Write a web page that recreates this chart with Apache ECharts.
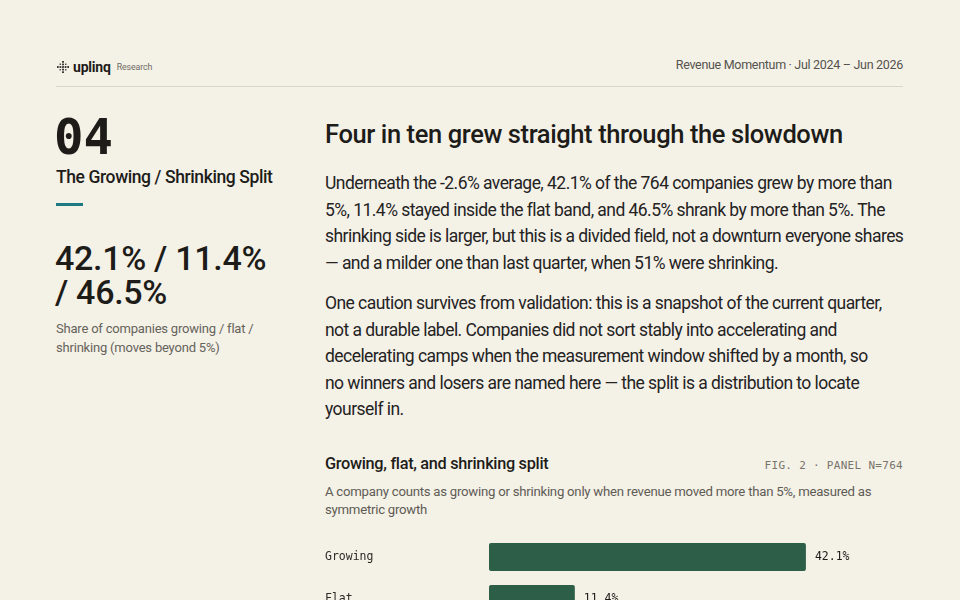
<!DOCTYPE html>
<html>
<head>
<meta charset="utf-8">
<script src="https://cdn.jsdelivr.net/npm/echarts@6/dist/echarts.min.js"></script>
<style>
  html, body { margin: 0; padding: 0; }
  body {
    width: 960px; height: 600px; overflow: hidden; position: relative;
    background: #f4f1e7; color: #1d1c19;
    font-family: Roboto, "Noto Sans", sans-serif;
  }
  .abs { position: absolute; }
  .mono { font-family: "DejaVu Sans Mono", "Liberation Mono", monospace; }
  #brand { left: 57px; top: 59px; display: flex; align-items: center; gap: 4px; }
  #brand .word { font-weight: 700; font-size: 14px; letter-spacing: -0.2px; }
  #brand .sub { font-size: 8.8px; color: #6f6c64; margin-left: 2px; letter-spacing: -0.1px; }
  #range { right: 57px; top: 57px; font-size: 12.5px; color: #55534d; letter-spacing: -0.3px; }
  #rule { left: 56px; top: 86px; width: 847px; height: 1px; background: #d9d5c9; }
  #num { left: 54px; top: 110px; font-size: 49px; font-weight: 700; line-height: 56px; }
  #sect { left: 56px; top: 167px; font-size: 17.5px; font-weight: 500; letter-spacing: -0.4px; }
  #tick { left: 56px; top: 203px; width: 27px; height: 3px; background: #1d7a82; }
  #big { left: 55px; top: 241px; width: 222px; font-size: 34px; font-weight: 500; line-height: 34px; letter-spacing: -0.3px; }
  #cap { left: 56px; top: 319px; width: 205px; font-size: 13px; line-height: 19px; color: #66635b; letter-spacing: -0.2px; }
  #title { left: 325px; top: 119px; font-size: 25.5px; font-weight: 500; letter-spacing: -0.4px; }
  .para { left: 325px; font-size: 17.5px; line-height: 26.5px; letter-spacing: -0.55px; color: #24231f; margin: 0; white-space: nowrap; }
  #p1 { top: 170px; }
  #p2 { top: 290px; }
  #ctitle { left: 325px; top: 454px; font-size: 16.3px; font-weight: 500; letter-spacing: -0.3px; }
  #fig { right: 57px; top: 459px; font-size: 11px; color: #77746b; letter-spacing: 0.3px; }
  #csub { left: 325px; top: 483px; width: 578px; font-size: 13.2px; line-height: 18px; color: #5f5c55; letter-spacing: -0.25px; }
  #chart { left: 325px; top: 536px; width: 578px; height: 180px; }
</style>
</head>
<body>
<div id="brand" class="abs">
  <svg width="12" height="12" viewBox="0 0 14 14">
    <g fill="#1d1c19">
      <rect x="6" y="0" width="2" height="2"/><rect x="6" y="3" width="2" height="2"/>
      <rect x="6" y="6" width="2" height="2"/><rect x="6" y="9" width="2" height="2"/>
      <rect x="6" y="12" width="2" height="2"/><rect x="0" y="6" width="2" height="2"/>
      <rect x="3" y="6" width="2" height="2"/><rect x="9" y="6" width="2" height="2"/>
      <rect x="12" y="6" width="2" height="2"/><rect x="3" y="3" width="1.5" height="1.5"/>
      <rect x="9.5" y="3" width="1.5" height="1.5"/><rect x="3" y="9.5" width="1.5" height="1.5"/>
      <rect x="9.5" y="9.5" width="1.5" height="1.5"/>
    </g>
  </svg>
  <span class="word">uplinq</span><span class="sub">Research</span>
</div>
<div id="range" class="abs">Revenue Momentum · Jul 2024 – Jun 2026</div>
<div id="rule" class="abs"></div>

<div id="num" class="abs mono">04</div>
<div id="sect" class="abs">The Growing / Shrinking Split</div>
<div id="tick" class="abs"></div>
<div id="big" class="abs">42.1% / 11.4% / 46.5%</div>
<div id="cap" class="abs">Share of companies growing / flat / shrinking (moves beyond 5%)</div>

<div id="title" class="abs">Four in ten grew straight through the slowdown</div>
<p id="p1" class="abs para">Underneath the -2.6% average, 42.1% of the 764 companies grew by more than<br>5%, 11.4% stayed inside the flat band, and 46.5% shrank by more than 5%. The<br>shrinking side is larger, but this is a divided field, not a downturn everyone shares<br>— and a milder one than last quarter, when 51% were shrinking.</p>
<p id="p2" class="abs para">One caution survives from validation: this is a snapshot of the current quarter,<br>not a durable label. Companies did not sort stably into accelerating and<br>decelerating camps when the measurement window shifted by a month, so<br>no winners and losers are named here — the split is a distribution to locate<br>yourself in.</p>

<div id="ctitle" class="abs">Growing, flat, and shrinking split</div>
<div id="fig" class="abs mono">FIG. 2 · PANEL N=764</div>
<div id="csub" class="abs">A company counts as growing or shrinking only when revenue moved more than 5%, measured as symmetric growth</div>
<div id="chart" class="abs"></div>

<script>
// split of the 764-company panel, percent of companies
var splitCategories = ['Growing', 'Flat', 'Shrinking'];
var splitShares = [42.1, 11.4, 46.5];

var theChart = echarts.init(document.getElementById('chart'));

var option = {
  animation: false,
  grid: { left: 164, right: 0, top: 0, height: 126, containLabel: false, outerBoundsMode: 'none' },
  textStyle: { fontFamily: '"DejaVu Sans Mono", monospace' },
  xAxis: {
    type: 'value', min: 0, max: 55,
    show: false
  },
  yAxis: {
    type: 'category',
    data: splitCategories,
    inverse: true,
    axisLine: { show: false },
    axisTick: { show: false },
    axisLabel: {
      align: 'left', margin: 164,
      fontSize: 11.5, color: '#2b2a26',
      fontFamily: '"DejaVu Sans Mono", monospace'
    }
  },
  series: [{
    type: 'bar',
    data: splitShares,
    barWidth: 28,
    itemStyle: { color: '#2d5e47', borderRadius: 2 },
    label: {
      show: true, position: 'right', distance: 9,
      fontSize: 11.5, color: '#1d1c19',
      fontFamily: '"DejaVu Sans Mono", monospace',
      formatter: function (p) { return p.value.toFixed(1) + '%'; }
    }
  }]
};
theChart.setOption(option);
</script>
</body>
</html>
